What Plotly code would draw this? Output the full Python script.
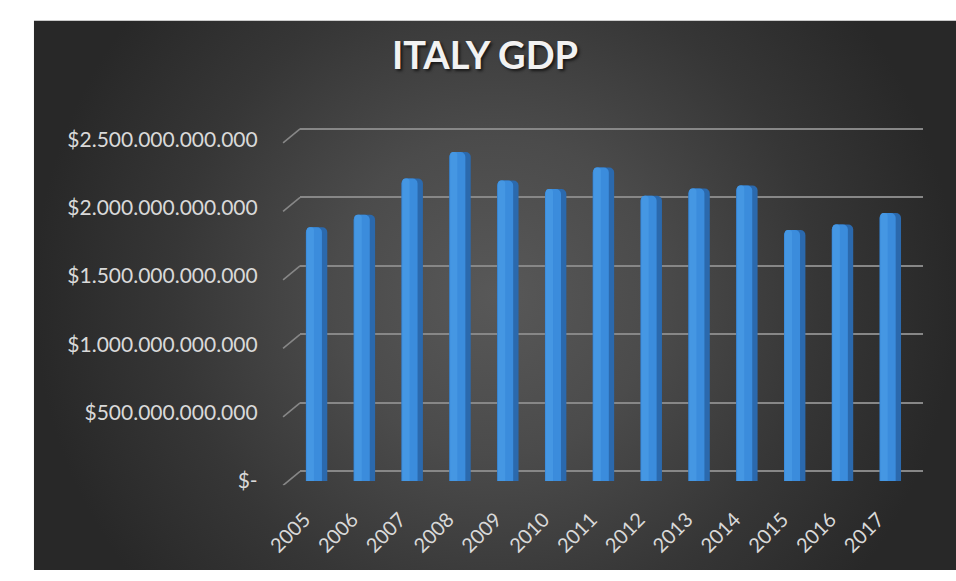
import plotly.graph_objects as go

# ---- data -------------------------------------------------------------
years = ["2005", "2006", "2007", "2008", "2009", "2010", "2011",
         "2012", "2013", "2014", "2015", "2016", "2017"]
gdp_usd = [1.857e12, 1.948e12, 2.213e12, 2.408e12, 2.199e12, 2.136e12, 2.294e12,
           2.087e12, 2.141e12, 2.162e12, 1.836e12, 1.877e12, 1.961e12]

y_tick_vals = [0, 0.5e12, 1.0e12, 1.5e12, 2.0e12, 2.5e12]
y_tick_text = ["$-", "$500.000.000.000", "$1.000.000.000.000",
               "$1.500.000.000.000", "$2.000.000.000.000", "$2.500.000.000.000"]

# ---- page geometry helpers ---------------------------------------------
W, H = 956, 581


def fx(px):
    return px / W


def fy(px):
    return 1 - px / H


GRID = "#878787"
LABEL = "#d9d9d9"
FONT = "Lato"

# back wall: value 0 sits at y=478 px, 2.5e12 at y=120 px
WALL_PX_PER_UNIT = (478 - 120) / 2.5e12
WALL_PAD = 0.1e12                      # keeps end gridlines inside the range
wall_pad_px = WALL_PAD * WALL_PX_PER_UNIT

fig = go.Figure()

# dark panel with a soft radial glow
fig.add_trace(go.Scatter(
    x=[0, 1, 1, 0, 0], y=[-0.33, -0.33, 1.33, 1.33, -0.33],
    mode="lines", line=dict(width=0), fill="toself",
    fillgradient=dict(type="radial",
                      colorscale=[[0, "#585858"], [0.35, "#4b4b4b"],
                                  [0.7, "#363636"], [1, "#282828"]]),
    hoverinfo="skip", showlegend=False, xaxis="x", yaxis="y"))

# columns: darker side face, lit front face, light left edge
fig.add_trace(go.Bar(
    x=years, y=gdp_usd, width=0.447, offset=-0.223,
    marker=dict(color="#2b69ad", cornerradius=5, line=dict(width=0)),
    hoverinfo="skip", showlegend=False, xaxis="x3", yaxis="y3"))
fig.add_trace(go.Bar(
    x=years, y=gdp_usd, width=0.335, offset=-0.223,
    marker=dict(color="#3b8cdc", cornerradius=5, line=dict(width=0)),
    showlegend=False, xaxis="x3", yaxis="y3"))
fig.add_trace(go.Bar(
    x=years, y=gdp_usd, width=0.15, offset=-0.205,
    marker=dict(color="#4597e3", cornerradius=3, line=dict(width=0)),
    hoverinfo="skip", showlegend=False, xaxis="x3", yaxis="y3"))

# short receding strokes at the left end of each back-wall gridline
shapes = []
for v in y_tick_vals:
    shapes.append(dict(
        type="line", xref="paper", xsizemode="pixel", xanchor=fx(281),
        x0=-17, x1=0, yref="y2", ysizemode="pixel", yanchor=v, y0=-14, y1=0,
        line=dict(color=GRID, width=1.6), layer="above"))

hidden = dict(visible=False, fixedrange=True)

fig.update_layout(
    width=W, height=H, autosize=False,
    margin=dict(l=0, r=0, t=0, b=0),
    paper_bgcolor="white", plot_bgcolor="rgba(0,0,0,0)",
    barmode="overlay", showlegend=False,
    title=dict(text="ITALY GDP", x=fx(485), xanchor="center",
               y=fy(56), yanchor="middle",
               font=dict(family=FONT, size=38, weight="bold", color="#f2f2f2",
                         shadow="2px 2px 3px rgba(0,0,0,0.65)")),
    # background panel axes
    xaxis=dict(domain=[fx(7), 1], range=[0, 1], **hidden),
    yaxis=dict(domain=[0, fy(7)], range=[0, 1], **hidden),
    # back wall gridlines
    xaxis2=dict(domain=[fx(281), fx(922)], range=[0, 1], anchor="y2",
                showgrid=False, showticklabels=False, zeroline=False,
                showline=False, fixedrange=True),
    yaxis2=dict(domain=[fy(478 + wall_pad_px), fy(120 - wall_pad_px)],
                range=[-WALL_PAD, 2.5e12 + WALL_PAD], anchor="x2",
                tickvals=y_tick_vals, showgrid=True, gridcolor=GRID,
                gridwidth=1.6, showticklabels=False, zeroline=False,
                showline=False, ticks="", fixedrange=True),
    # columns and their labels
    xaxis3=dict(domain=[fx(273.4), fx(913)], range=[-0.5, 12.5],
                type="category", anchor="y3", tickangle=-45,
                tickfont=dict(family=FONT, size=20, color=LABEL),
                ticks="", showgrid=False, showline=False, zeroline=False,
                ticklabelstandoff=22, ticklabelshift=-12, fixedrange=True),
    yaxis3=dict(domain=[fy(488), fy(131)], range=[0, 2.5e12], anchor="x3",
                tickvals=y_tick_vals, ticktext=y_tick_text,
                tickfont=dict(family=FONT, size=21, color=LABEL),
                ticks="", showgrid=False, showline=False, zeroline=False,
                ticklabelstandoff=34, fixedrange=True),
    shapes=shapes,
)

fig.write_html("out.html")
